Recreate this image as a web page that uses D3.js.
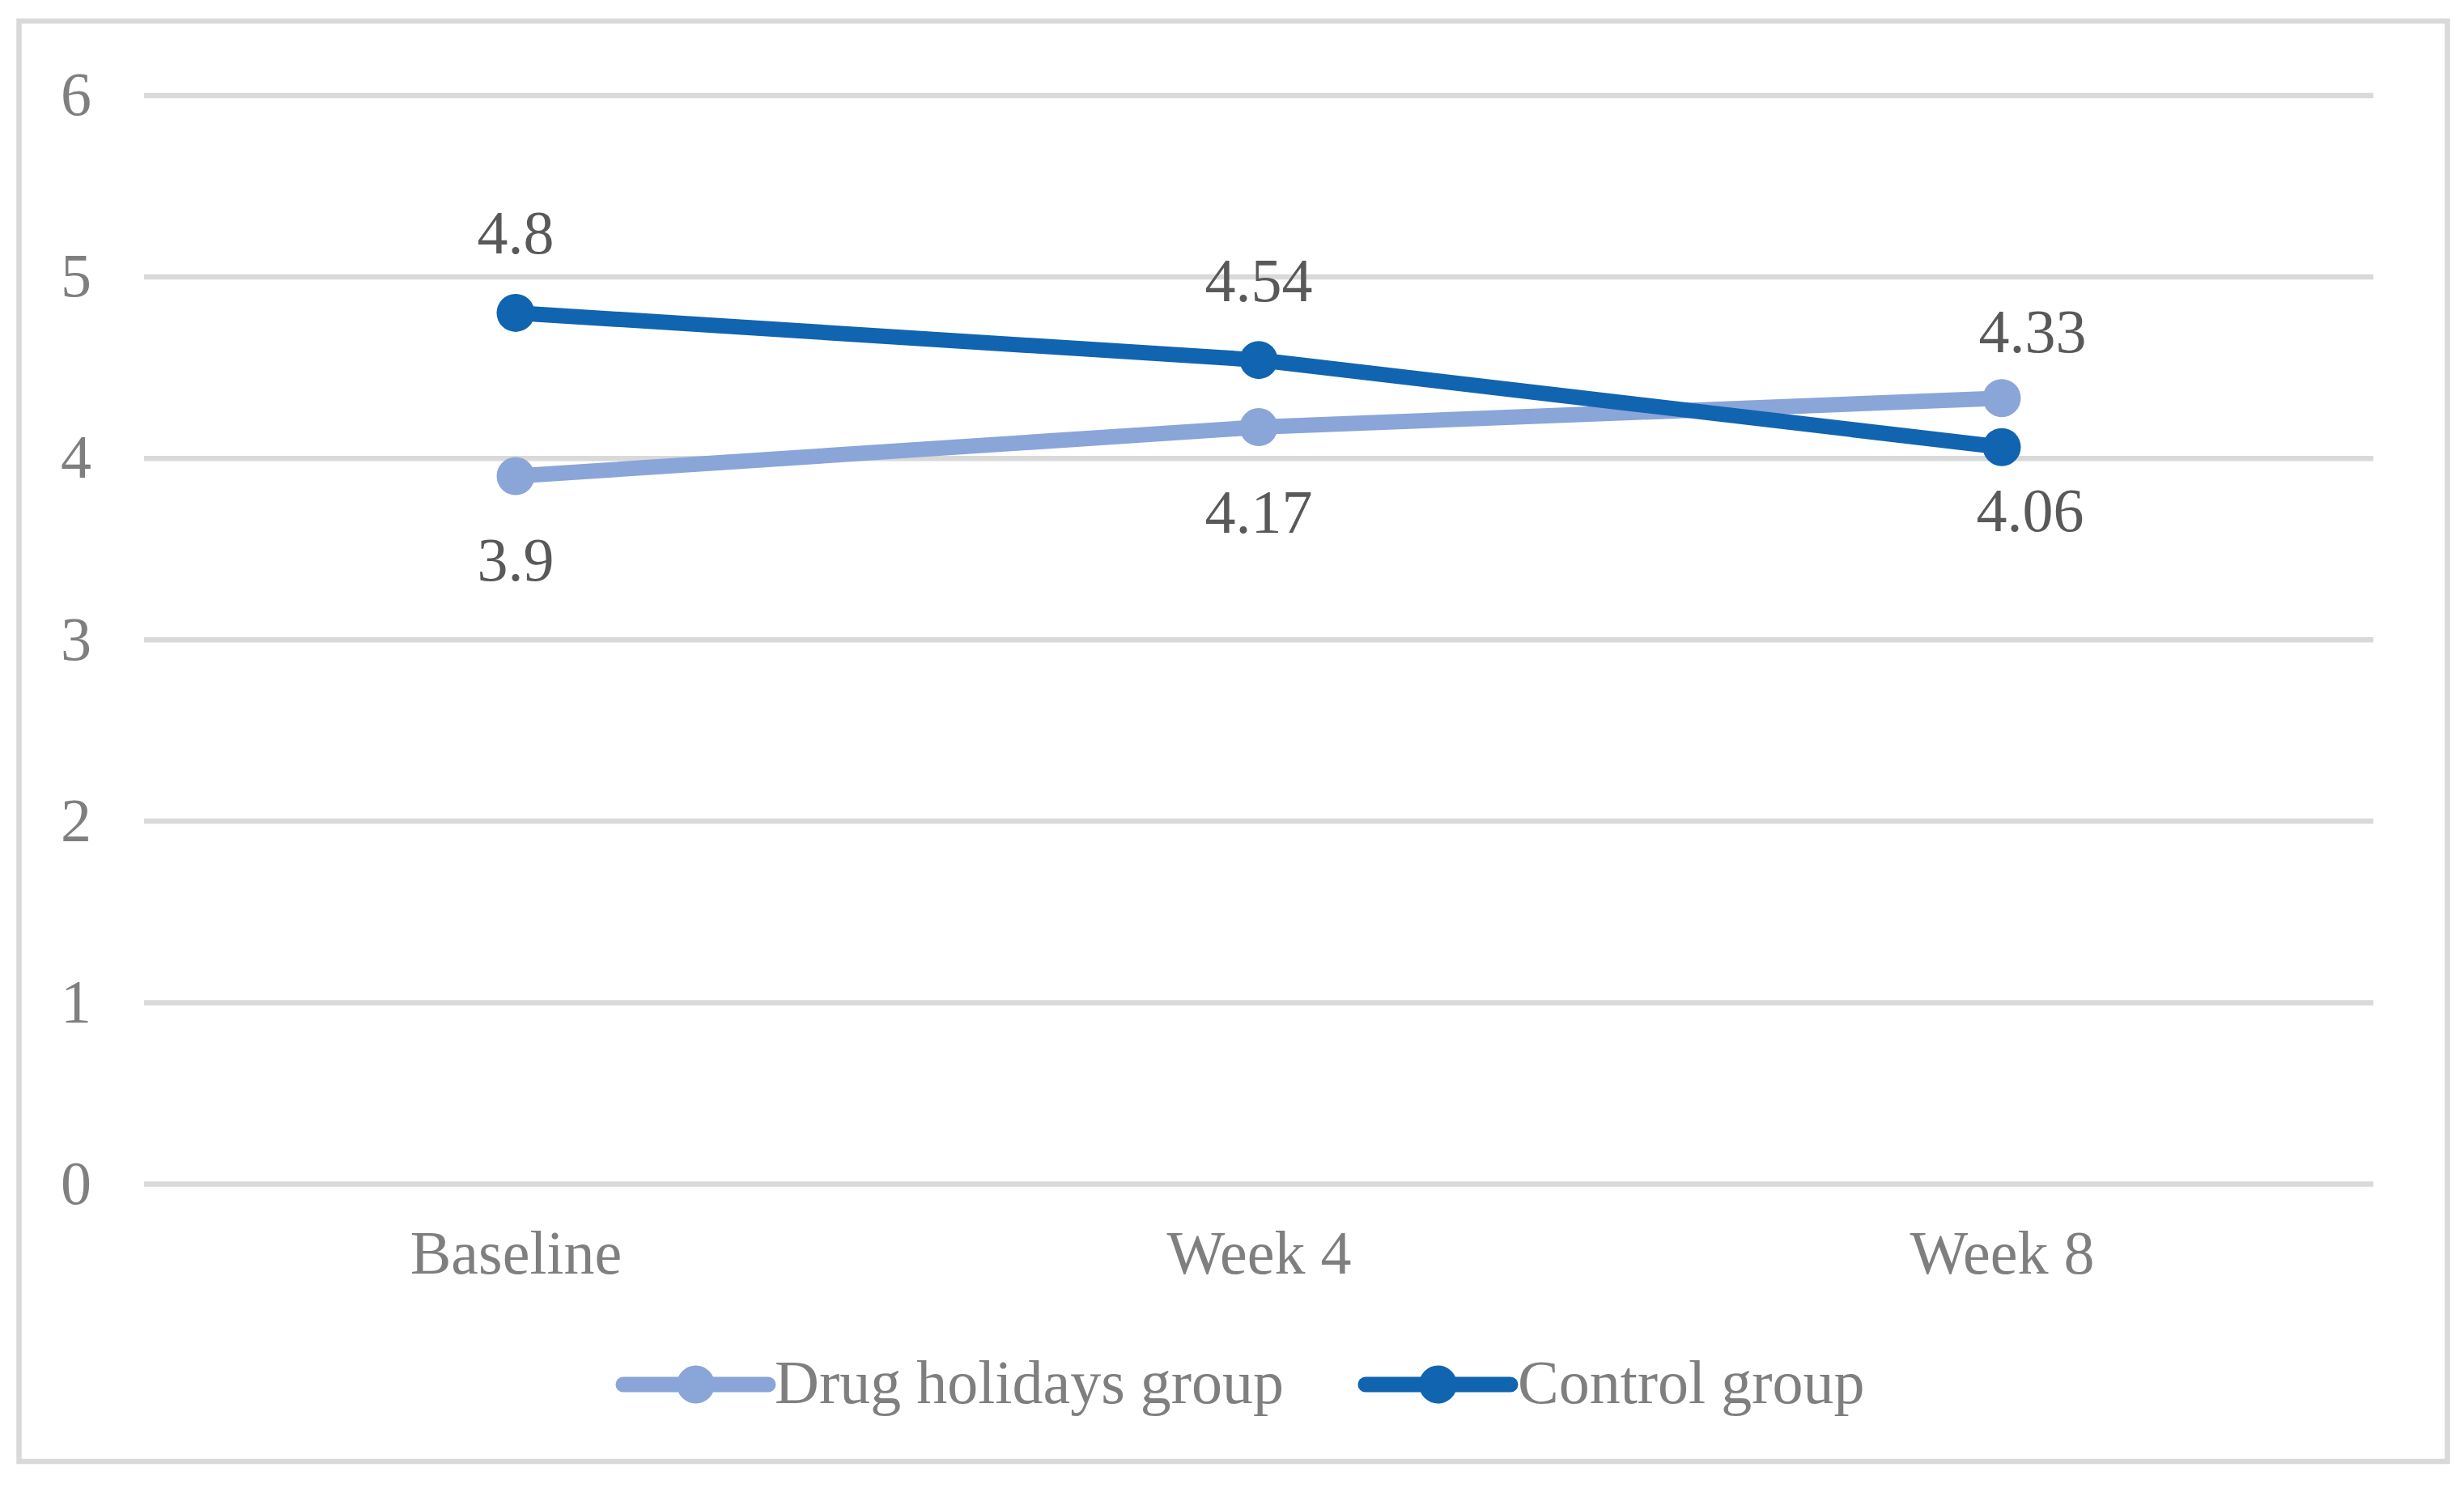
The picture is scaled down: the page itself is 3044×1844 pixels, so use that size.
<!DOCTYPE html>
<html>
<head>
<meta charset="utf-8">
<script src="https://cdn.jsdelivr.net/npm/d3@7"></script>
<style>
  body { margin: 0; background: #fff; }
  svg text { font-family: "Liberation Serif", "Times New Roman", serif; }
</style>
</head>
<body>
<div id="chart"></div>
<script>
var categories = ["Baseline", "Week 4", "Week 8"];
var seriesNames = ["Drug holidays group", "Control group"];
var drugHolidays = [3.9, 4.17, 4.33];
var control = [4.8, 4.54, 4.06];
var yTicks = [0, 1, 2, 3, 4, 5, 6];
// label placement relative to the point: [dx, baseline dy]
var drugLabelOffset = [[0, 129], [0, 130], [38, -57]];
var controlLabelOffset = [[0, -73], [0, -73], [35, 104]];

var svgWidth = 3044;
var svgHeight = 1844;

var margin = { top: 117.5, right: 112, bottom: 382, left: 178 };
var width = svgWidth - margin.left - margin.right;
var height = svgHeight - margin.top - margin.bottom;

var colors = ["#8aa5d8", "#1164b0"];
var fontSize = 76;

var svg = d3.select("#chart")
  .append("svg")
  .attr("width", svgWidth)
  .attr("height", svgHeight);

// outer border
svg.append("rect")
  .attr("x", 23.5).attr("y", 26)
  .attr("width", 3000).attr("height", 1779)
  .attr("fill", "none")
  .attr("stroke", "#d9d9d9")
  .attr("stroke-width", 6.5);

var chartGroup = svg.append("g")
  .attr("transform", `translate(${margin.left}, ${margin.top})`);

var xScale = d3.scalePoint()
  .domain(categories)
  .range([0, width])
  .padding(0.5);

var yScale = d3.scaleLinear()
  .domain([0, 6])
  .range([height, 0]);

// y axis + gridlines
var leftAxis = d3.axisLeft(yScale)
  .tickValues(yTicks)
  .tickSize(-width)
  .tickPadding(65)
  .tickFormat(d3.format("d"));

var yAxis = chartGroup.append("g").call(leftAxis);
yAxis.select(".domain").remove();
yAxis.selectAll(".tick line")
  .attr("stroke", "#d9d9d9")
  .attr("stroke-width", 6.5);
yAxis.selectAll(".tick text")
  .attr("fill", "#7f7f7f")
  .style("font-size", fontSize + "px");

// x axis labels
var bottomAxis = d3.axisBottom(xScale).tickSize(0);
var xAxis = chartGroup.append("g")
  .attr("transform", `translate(0, ${height})`)
  .call(bottomAxis);
xAxis.select(".domain").remove();
xAxis.selectAll(".tick text")
  .attr("y", 111)
  .attr("dy", 0)
  .attr("fill", "#7f7f7f")
  .style("font-size", fontSize + "px");

var allSeries = [
  { name: seriesNames[0], values: drugHolidays, offsets: drugLabelOffset, color: colors[0] },
  { name: seriesNames[1], values: control, offsets: controlLabelOffset, color: colors[1] }
];

var line = d3.line()
  .x((d, i) => xScale(categories[i]))
  .y(d => yScale(d));

allSeries.forEach(function(s) {
  chartGroup.append("path")
    .datum(s.values)
    .attr("d", line)
    .attr("fill", "none")
    .attr("stroke", s.color)
    .attr("stroke-width", 19)
    .attr("stroke-linejoin", "round");

  chartGroup.selectAll(null)
    .data(s.values)
    .enter()
    .append("circle")
    .attr("cx", (d, i) => xScale(categories[i]))
    .attr("cy", d => yScale(d))
    .attr("r", 23.5)
    .attr("fill", s.color);
});

// data labels
allSeries.forEach(function(s) {
  chartGroup.selectAll(null)
    .data(s.values)
    .enter()
    .append("text")
    .attr("x", (d, i) => xScale(categories[i]) + s.offsets[i][0])
    .attr("y", (d, i) => yScale(d) + s.offsets[i][1])
    .attr("text-anchor", "middle")
    .attr("fill", "#595959")
    .style("font-size", fontSize + "px")
    .text(d => d);
});

// legend
var legendItems = [
  { x: 770, textX: 957 },
  { x: 1687, textX: 1875 }
];
var legendY = 1710;
var legend = svg.append("g");
allSeries.forEach(function(s, i) {
  var item = legend.append("g");
  item.append("line")
    .attr("x1", legendItems[i].x).attr("x2", legendItems[i].x + 179)
    .attr("y1", legendY).attr("y2", legendY)
    .attr("stroke", s.color)
    .attr("stroke-width", 19)
    .attr("stroke-linecap", "round");
  item.append("circle")
    .attr("cx", legendItems[i].x + 89.5)
    .attr("cy", legendY)
    .attr("r", 23.5)
    .attr("fill", s.color);
  item.append("text")
    .attr("x", legendItems[i].textX)
    .attr("y", 1733)
    .attr("fill", "#7f7f7f")
    .style("font-size", fontSize + "px")
    .text(s.name);
});
</script>
</body>
</html>
